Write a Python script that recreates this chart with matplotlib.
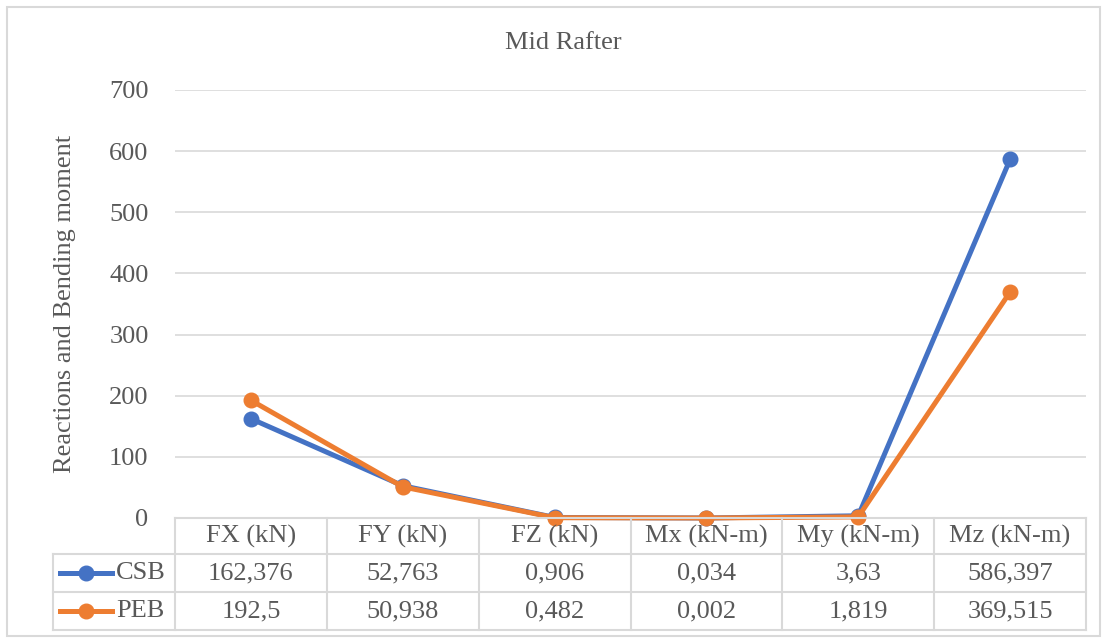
import matplotlib.pyplot as plt
from matplotlib.lines import Line2D
from matplotlib.patches import Rectangle

# ------------------------------
#  Données
# ------------------------------
categories = ['FX (kN)', 'FY (kN)', 'FZ (kN)', 'Mx (kN-m)', 'My (kN-m)', 'Mz (kN-m)']
csb = [162.376, 52.763, 0.906, 0.034, 3.63, 586.397]
peb = [192.5, 50.938, 0.482, 0.002, 1.819, 369.515]
series_names = ['CSB', 'PEB']
yticks = [0, 100, 200, 300, 400, 500, 600, 700]

colors = ['#4472C4', '#ED7D31']
grey_txt = '#595959'
grey_line = '#D9D9D9'
fs = 19

plt.rcParams['font.family'] = ['Liberation Serif', 'DejaVu Serif']

W, H = 1107, 641
fig = plt.figure(figsize=(W / 100, H / 100), dpi=100)

# zone du graphique (en pixels)
x0, x1, ytop, ybot = 175, 1086, 90, 518
ax = fig.add_axes([x0 / W, 1 - ybot / H, (x1 - x0) / W, (ybot - ytop) / H])

x = list(range(len(categories)))
for vals, c in zip([csb, peb], colors):
    ax.plot(x, vals, color=c, lw=3.6, marker='o', ms=10.5, clip_on=False, zorder=3)

ax.set_xlim(-0.5, len(categories) - 0.5)
ax.set_ylim(0, 700)
ax.set_yticks(yticks)
ax.set_xticks([])
ax.grid(axis='y', color=grey_line, lw=1.2)
ax.set_axisbelow(True)
for s in ax.spines.values():
    s.set_visible(False)
ax.tick_params(axis='y', length=0, pad=19, labelsize=fs, labelcolor=grey_txt)
ax.set_ylabel('Reactions and Bending moment', fontsize=fs, color=grey_txt)
ax.yaxis.set_label_coords(-0.109, 0.50)

fig.text(563 / W, 1 - 43 / H, 'Mid Rafter', ha='center', va='center', fontsize=fs, color=grey_txt)

# ------------------------------
#  Tableau de données
# ------------------------------
tx0, ty0, ty1 = 53, 518, 630
tax = fig.add_axes([tx0 / W, 1 - ty1 / H, (x1 - tx0) / W, (ty1 - ty0) / H])
tax.set_xlim(tx0, x1)
tax.set_ylim(ty1, ty0)
tax.axis('off')

rows = [ty0, 554, 592, ty1]
cw = (x1 - x0) / len(categories)
edges = [x0 + i * cw for i in range(len(categories) + 1)]

lk = dict(color=grey_line, lw=1.5, clip_on=False)
tax.plot([x0, x1], [rows[0], rows[0]], **lk)
for r in rows[1:]:
    tax.plot([tx0, x1], [r, r], **lk)
for e in edges:
    tax.plot([e, e], [rows[0], rows[-1]], **lk)
tax.plot([tx0, tx0], [rows[1], rows[-1]], **lk)

def fmt(v):
    return f'{v:g}'.replace('.', ',')

for i, cat in enumerate(categories):
    xc = (edges[i] + edges[i + 1]) / 2
    tax.text(xc, (rows[0] + rows[1]) / 2, cat, ha='center', va='center', fontsize=fs, color=grey_txt)
    for j, vals in enumerate([csb, peb]):
        tax.text(xc, (rows[j + 1] + rows[j + 2]) / 2, fmt(vals[i]), ha='center', va='center',
                 fontsize=fs, color=grey_txt)

for j, (name, c) in enumerate(zip(series_names, colors)):
    yc = (rows[j + 1] + rows[j + 2]) / 2
    tax.add_line(Line2D([60, 112], [yc, yc], color=c, lw=3.6, clip_on=False))
    tax.add_line(Line2D([86], [yc], color=c, marker='o', ms=10.5, clip_on=False))
    tax.text(116, yc, name, ha='left', va='center', fontsize=fs, color=grey_txt)

# cadre extérieur
fig.add_artist(Rectangle((7 / W, 1 - 636 / H), (1100 - 7) / W, (636 - 7) / H,
                         transform=fig.transFigure, fill=False, ec=grey_line, lw=1.5))

fig.savefig('out.png', dpi=100)
